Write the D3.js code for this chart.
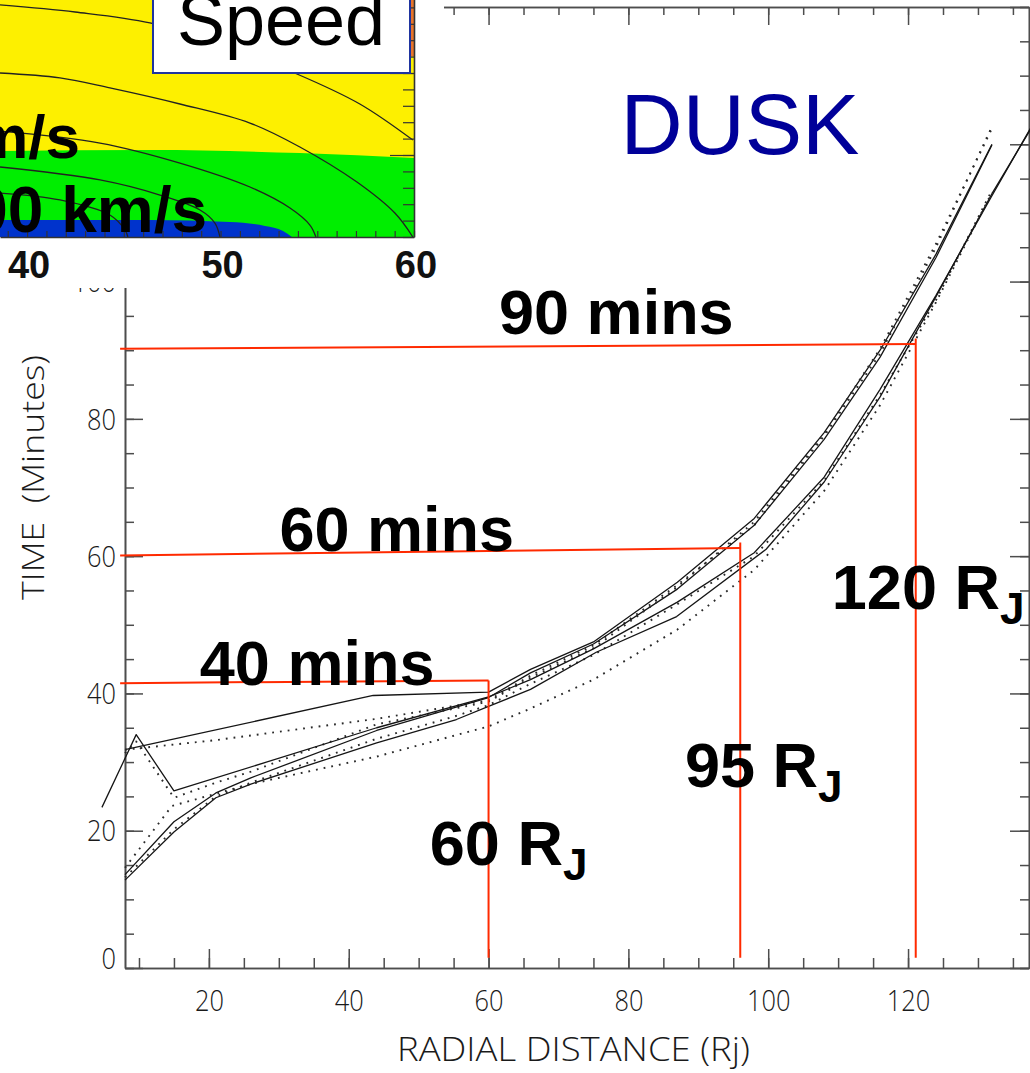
<!DOCTYPE html>
<html>
<head>
<meta charset="utf-8">
<script src="https://cdn.jsdelivr.net/npm/d3@7"></script>
<style>
  body { margin: 0; background: #fff; }
  svg { display: block; }
</style>
</head>
<body>
<svg id="chart" width="1030" height="1073"></svg>
<script>
// ---------- Travel-time curves: [radial distance (Rj), time (minutes)] ----------
const solidA  = [[8,31.8],[43.5,39.7],[60,40.2],[66,43.5],[75,47.5],[87,56.2],[98,65.5],[108,78],[116,90],[124,104],[132,120]];
const dottedA = [[8,31.8],[21,33.2],[44,36.3],[60,39.0],[66,42.6],[75,47.0],[87,55.8],[98,64.5],[108,77.5],[116,89.5],[124,105],[132,122.6]];
const solidB  = [[8,13.6],[15,21.3],[21,25.5],[26,27.7],[44,34.6],[60,39.4],[66,43],[75,47.2],[87,55.2],[98,64.5],[108,77],[116,89],[124,103.5],[132,119.9]];
const dottedB = [[8,31.3],[9.6,33.0],[15,24.8],[21,27.0],[26,28.6],[44,35.5],[60,38.8],[66,42.3],[75,46.6],[87,55.5],[98,65],[108,77.8],[116,90.2],[124,105.5],[132,122.3]];
const solidC  = [[4.7,23.4],[9.6,34.0],[15,25.8],[44,35],[60,39.5],[66,42],[75,46.5],[87,53.3],[98,60.5],[108,71.5],[116,84.3],[124,98],[132,112.5],[138,123.2]];
const dottedC = [[8,13.2],[15,20.2],[21,25.0],[26,27.0],[44,33.4],[55,36.6],[60,38.3],[66,41.4],[75,45.6],[87,53],[98,60],[108,71],[116,83.5],[124,97.3],[132,113.3]];
const solidD  = [[8,12.8],[15,19.8],[21,24.8],[26,26.8],[44,32.8],[55.4,36.2],[60,38.1],[66,40.6],[75.4,46],[86.9,51.2],[99.7,61],[108,70.8],[116,83.2],[124,97.8],[132,112.8],[138,123]];
const dottedD = [[8,14.6],[14.7,23.6],[21,25.4],[26,26.8],[44,30.8],[60,35.2],[66,37.8],[75,42],[87,49.3],[98,58],[108,69.5],[116,82],[124,97],[132,113]];

// ---------- Reference markers (red guides) ----------
const guideRadius    = [60, 96, 121.1];     // Rj where each guide drops to the axis
const guideTimeLeft  = [41.5, 60.1, 90.2];  // minutes at the left end of each guide
const guideTimeRight = [41.9, 61.2, 90.9];  // minutes at the corner of each guide
const guideTimeText  = ["40 mins", "60 mins", "90 mins"];
const guideRadText   = ["60", "95", "120"];

// ---------- Axis ticks ----------
const xTickLabels = [20, 40, 60, 80, 100, 120];
const yMajorTicks = [0, 20, 40, 60, 80, 100, 120, 140];
const yTickLabels = [0, 20, 40, 60, 80, 100];
const xDomain = [8, 137.3];
const yDomain = [0, 140];

// ---------- Inset: flow speed map (Rj along x, height along y) ----------
const insetXDomain = [38.6, 60];
const insetYDomain = [0, 14.5];
const insetTickLabels = [40, 50, 60];
const insetGreenTop = [[38.6,5.24],[46.35,5.3],[54.1,5.12],[60,4.82]];
const insetBlueTop  = [[38.6,1.04],[46.35,1.04],[50.49,0.91],[52.3,0.67],[53.23,0.37],[53.69,0]];
const contour1 = [[38.6,14.15],[42.48,13.72],[46.35,13.05],[50.49,11.52],[53.95,9.94],[57.2,8.11],[59.94,5.91]];
const contour2 = [[38.6,10.0],[41.7,9.7],[44.28,9.09],[47.9,8.11],[51.52,6.95],[54.1,5.49],[57.05,3.35],[59.01,1.46],[59.94,0]];
const contour3 = [[38.6,6.46],[43.77,5.73],[47.9,4.51],[51.52,3.05],[53.59,1.77],[54.62,0.73],[54.93,0]];
const contour4 = [[38.6,4.27],[43.77,3.48],[46.87,2.56],[48.94,1.65],[49.71,0.85],[49.97,0]];
const contour5 = [[38.6,2.68],[41.7,2.26],[44.28,1.34],[45.06,0.43],[45.21,0]];
const speedLabels = ["300 km/s", "200 km/s"];

// =====================================================================
const svg = d3.select("#chart");
const axisColor = "#4d4d4d";
const tickFont = "'Open Sans', sans-serif";

const x = d3.scaleLinear().domain(xDomain).range([125, 1029]);
const y = d3.scaleLinear().domain(yDomain).range([968, 7]);

const xMinor = d3.range(10, 137, 5);
const yMinor = d3.range(0, 141, 5);

function styleAxis(g) {
  g.selectAll("path.domain").attr("stroke", axisColor).attr("stroke-width", 1.6);
  g.selectAll(".tick line").attr("stroke", axisColor).attr("stroke-width", 1.5);
}

// bottom axis: minor + major ticks, labelled majors
svg.append("g").attr("transform", `translate(0,${y(0)})`)
  .call(d3.axisBottom(x).tickValues(xMinor).tickSizeInner(-10).tickSizeOuter(0).tickFormat(""))
  .call(styleAxis);
const gxMaj = svg.append("g").attr("transform", `translate(0,${y(0)})`)
  .call(d3.axisBottom(x).tickValues(xTickLabels).tickSizeInner(-19).tickSizeOuter(0).tickPadding(22))
  .call(styleAxis);
gxMaj.selectAll("text")
  .attr("font-family", tickFont).attr("font-weight", 300).attr("font-size", 30)
  .attr("fill", "#1a1a1a")
  .attr("textLength", d => String(d).length * 14.5)
  .attr("lengthAdjust", "spacingAndGlyphs");

// top axis (ticks only)
svg.append("g").attr("transform", `translate(0,${y(140)})`)
  .call(d3.axisTop(x).tickValues(xMinor).tickSizeInner(-8).tickSizeOuter(0).tickFormat(""))
  .call(styleAxis);
svg.append("g").attr("transform", `translate(0,${y(140)})`)
  .call(d3.axisTop(x).tickValues(xTickLabels).tickSizeInner(-18).tickSizeOuter(0).tickFormat(""))
  .call(styleAxis);

// left axis: minor ticks, long major ticks, labels
svg.append("g").attr("transform", `translate(${x(xDomain[0])},0)`)
  .call(d3.axisLeft(y).tickValues(yMinor).tickSizeInner(-9).tickSizeOuter(0).tickFormat(""))
  .call(styleAxis);
svg.append("g").attr("transform", `translate(${x(xDomain[0])},0)`)
  .call(d3.axisLeft(y).tickValues(yMajorTicks).tickSizeInner(-18).tickSizeOuter(0).tickFormat(""))
  .call(styleAxis);
const gyLab = svg.append("g").attr("transform", `translate(${x(xDomain[0])},0)`)
  .call(d3.axisLeft(y).tickValues(yTickLabels).tickSizeInner(0).tickSizeOuter(0).tickPadding(9))
  .call(g => g.select("path.domain").remove())
  .call(g => g.selectAll(".tick line").remove());
gyLab.selectAll("text")
  .attr("font-family", tickFont).attr("font-weight", 300).attr("font-size", 30)
  .attr("fill", "#1a1a1a")
  .attr("textLength", d => String(d).length * 14.5)
  .attr("lengthAdjust", "spacingAndGlyphs")
  .attr("dy", d => d === 0 ? "0.0em" : "0.34em");

// right axis (ticks only)
svg.append("g").attr("transform", `translate(${x(xDomain[1])},0)`)
  .call(d3.axisRight(y).tickValues(yMinor).tickSizeInner(-9).tickSizeOuter(0).tickFormat(""))
  .call(styleAxis);
svg.append("g").attr("transform", `translate(${x(xDomain[1])},0)`)
  .call(d3.axisRight(y).tickValues(yMajorTicks).tickSizeInner(-19).tickSizeOuter(0).tickFormat(""))
  .call(styleAxis);

// axis titles
svg.append("text")
  .attr("x", 397).attr("y", 1061)
  .attr("font-family", tickFont).attr("font-weight", 300).attr("font-size", 33)
  .attr("fill", "#1a1a1a")
  .attr("textLength", 353).attr("lengthAdjust", "spacingAndGlyphs")
  .text("RADIAL DISTANCE (Rj)");
svg.append("text")
  .attr("transform", "translate(44,600) rotate(-90)")
  .attr("font-family", tickFont).attr("font-weight", 300).attr("font-size", 31)
  .attr("fill", "#1a1a1a").style("white-space", "pre")
  .attr("textLength", 245).attr("lengthAdjust", "spacingAndGlyphs")
  .text("TIME  (Minutes)");

// ---------- curves ----------
const line = d3.line().x(d => x(d[0])).y(d => y(d[1]));
const curves = [
  { data: solidA, dotted: false }, { data: dottedA, dotted: true },
  { data: solidB, dotted: false }, { data: dottedB, dotted: true },
  { data: solidC, dotted: false }, { data: dottedC, dotted: true },
  { data: solidD, dotted: false }, { data: dottedD, dotted: true }
];
svg.append("g").selectAll("path").data(curves).join("path")
  .attr("d", d => line(d.data))
  .attr("fill", "none")
  .attr("stroke", d => d.dotted ? "#2a2a2a" : "#151515")
  .attr("stroke-width", d => d.dotted ? 1.9 : 1.3)
  .attr("stroke-dasharray", d => d.dotted ? "1.8,6" : null)
  .attr("stroke-linejoin", "round");

// ---------- red guides ----------
const red = "#ff2a00";
const gGuide = svg.append("g").attr("stroke", red).attr("stroke-width", 2).attr("fill", "none");
guideRadius.forEach((r, i) => {
  gGuide.append("line")
    .attr("x1", x(7.3)).attr("y1", y(guideTimeLeft[i]))
    .attr("x2", x(r)).attr("y2", y(guideTimeRight[i]));
  gGuide.append("line")
    .attr("x1", x(r)).attr("y1", y(guideTimeRight[i] + (i === 0 ? 0 : 0.8)))
    .attr("x2", x(r)).attr("y2", y(1.5));
});

// ---------- annotations ----------
const bold = "'Liberation Sans', Arial, sans-serif";
const timeAnchor = [[18.7, 41.3], [30.1, 60.7], [61.5, 92.4]];
guideTimeText.forEach((t, i) => {
  svg.append("text")
    .attr("x", x(timeAnchor[i][0])).attr("y", y(timeAnchor[i][1]))
    .attr("font-family", bold).attr("font-weight", "bold").attr("font-size", 63)
    .attr("fill", "#000").text(t);
});
const radAnchor = [[51.6, 15.0], [88.1, 26.3], [109.1, 52.3]];
guideRadText.forEach((t, i) => {
  const tx = svg.append("text")
    .attr("x", x(radAnchor[i][0])).attr("y", y(radAnchor[i][1]))
    .attr("font-family", bold).attr("font-weight", "bold").attr("font-size", 63)
    .attr("fill", "#000");
  tx.append("tspan").text(t + " R");
  tx.append("tspan").attr("font-size", 44).attr("dy", 15).text("J");
});

svg.append("text")
  .attr("x", 740).attr("y", 154).attr("text-anchor", "middle")
  .attr("font-family", bold).attr("font-size", 86).attr("fill", "#000099")
  .text("DUSK");

// ---------- inset ----------
const ix = d3.scaleLinear().domain(insetXDomain).range([0, 414]);
const iy = d3.scaleLinear().domain(insetYDomain).range([237, -0.8]);
const inset = svg.append("g");

inset.append("rect").attr("x", 0).attr("y", 0).attr("width", 444).attr("height", 288).attr("fill", "#fff");

svg.append("defs").append("clipPath").attr("id", "insetClip")
  .append("rect").attr("x", 0).attr("y", 0).attr("width", 414).attr("height", 237);
const plot = inset.append("g").attr("clip-path", "url(#insetClip)");

plot.append("rect").attr("x", 0).attr("y", 0).attr("width", 414).attr("height", 237).attr("fill", "#fdf000");
const area = d3.area().x(d => ix(d[0])).y0(iy(0)).y1(d => iy(d[1])).curve(d3.curveMonotoneX);
plot.append("path").attr("d", area(insetGreenTop)).attr("fill", "#00ee00");
plot.append("path").attr("d", area(insetBlueTop)).attr("fill", "#0033cc");
plot.append("rect")
  .attr("x", ix(59.78)).attr("y", 0)
  .attr("width", ix(60) - ix(59.78)).attr("height", iy(11.0))
  .attr("fill", "#e8742a");

const cline = d3.line().x(d => ix(d[0])).y(d => iy(d[1])).curve(d3.curveCatmullRom);
plot.selectAll("path.contour").data([contour1, contour2, contour3, contour4, contour5]).join("path")
  .attr("class", "contour")
  .attr("d", cline).attr("fill", "none").attr("stroke", "#222").attr("stroke-width", 1.3);

// inset axes
const insetMinorX = d3.range(39, 61, 1);
const insetMinorY = d3.range(0, 15, 1);
inset.append("g").attr("transform", `translate(0,${iy(0)})`)
  .call(d3.axisBottom(ix).tickValues(insetMinorX).tickSizeInner(-6).tickSizeOuter(0).tickFormat(""))
  .call(g => { g.selectAll("path.domain").attr("stroke", "#333").attr("stroke-width", 1.6);
               g.selectAll(".tick line").attr("stroke", "#333").attr("stroke-width", 1.2); });
inset.append("g").attr("transform", `translate(${ix(60)},0)`)
  .call(d3.axisRight(iy).tickValues(insetMinorY).tickSizeInner(-11).tickSizeOuter(0).tickFormat(""))
  .call(g => { g.selectAll("path.domain").attr("stroke", "#333").attr("stroke-width", 1.6);
               g.selectAll(".tick line").attr("stroke", "#333").attr("stroke-width", 1.2); });
inset.append("g").attr("transform", `translate(${ix(60)},0)`)
  .call(d3.axisRight(iy).tickValues([5, 10]).tickSizeInner(-24).tickSizeOuter(0).tickFormat(""))
  .call(g => { g.select("path.domain").remove();
               g.selectAll(".tick line").attr("stroke", "#333").attr("stroke-width", 1.2); });

inset.selectAll("text.itick").data(insetTickLabels).join("text")
  .attr("class", "itick")
  .attr("x", d => ix(d) + 2).attr("y", 278).attr("text-anchor", "middle")
  .attr("font-family", bold).attr("font-weight", "bold").attr("font-size", 38)
  .attr("fill", "#111").text(d => d);

// speed labels (left part runs off the page)
inset.append("text").attr("x", 80).attr("y", 158).attr("text-anchor", "end")
  .attr("font-family", bold).attr("font-weight", "bold").attr("font-size", 62)
  .attr("fill", "#000").text(speedLabels[0]);
inset.append("text").attr("x", 207).attr("y", 232).attr("text-anchor", "end")
  .attr("font-family", bold).attr("font-weight", "bold").attr("font-size", 64)
  .attr("fill", "#000").text(speedLabels[1]);

// title box
inset.append("rect").attr("x", 153).attr("y", -4).attr("width", 257).attr("height", 77)
  .attr("fill", "#fff").attr("stroke", "#1f34a0").attr("stroke-width", 2);
inset.append("text").attr("x", 281).attr("y", 45).attr("text-anchor", "middle")
  .attr("font-family", bold).attr("font-size", 72).attr("fill", "#000").text("Speed");
</script>
</body>
</html>
